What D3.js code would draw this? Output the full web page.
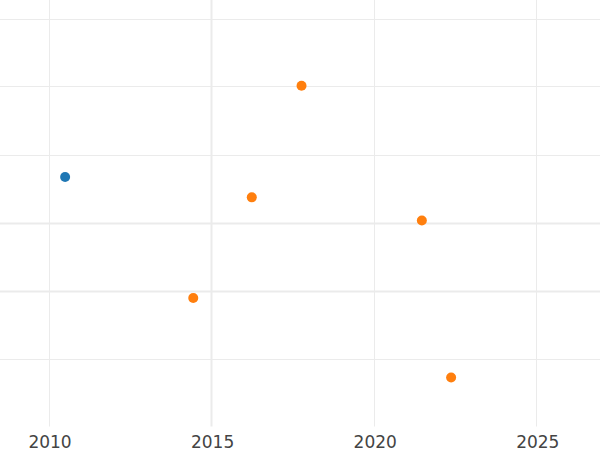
<!DOCTYPE html>
<html>
<head>
<meta charset="utf-8">
<script src="https://cdn.jsdelivr.net/npm/d3@7"></script>
<style>
  html, body { margin: 0; padding: 0; background: #fff; }
  svg { display: block; }
</style>
</head>
<body>
<svg id="chart" width="600" height="450"></svg>
<script>
// ---- data ----
const blueX = [2010.48];
const blueY = [36.7];
const orangeX = [2017.75, 2016.22, 2021.45, 2014.42, 2022.35];
const orangeY = [50.1, 33.7, 30.3, 18.9, 7.2];
const xTicks = [2010, 2015, 2020, 2025];
const yTicks = [10, 20, 30, 40, 50, 60];
const emphasizedX = [2015];
const emphasizedY = [20, 30];

const W = 600, H = 450;
const plotTop = 0, plotBottom = 426.5;

const x = d3.scaleLinear().domain([2010, 2025]).range([49.5, 537.3]);
const y = d3.scaleLinear().domain([0, 60]).range([426.5, 18.5]);

const svg = d3.select("#chart");

// horizontal grid
svg.append("g").selectAll("line").data(yTicks).join("line")
  .attr("x1", 0).attr("x2", W)
  .attr("y1", d => Math.round(y(d)) + 0.5)
  .attr("y2", d => Math.round(y(d)) + 0.5)
  .attr("stroke", "#ebebeb")
  .attr("stroke-width", d => emphasizedY.includes(d) ? 2 : 1);

// vertical grid
svg.append("g").selectAll("line").data(xTicks).join("line")
  .attr("x1", d => Math.round(x(d)) - 0.5)
  .attr("x2", d => Math.round(x(d)) - 0.5)
  .attr("y1", plotTop).attr("y2", plotBottom)
  .attr("stroke", "#ebebeb")
  .attr("stroke-width", d => emphasizedX.includes(d) ? 2 : 1);

// x axis labels
const xAxis = d3.axisBottom(x).tickValues(xTicks).tickFormat(d3.format("d")).tickSize(0).tickPadding(0);
const gx = svg.append("g").attr("transform", "translate(0,434)").call(xAxis);
gx.select(".domain").remove();
gx.selectAll("text")
  .attr("dy", null)
  .attr("y", 14)
  .attr("fill", "#444")
  .style("font-family", "'DejaVu Sans', sans-serif")
  .style("font-size", "17px");

// points
svg.append("g").selectAll("circle").data(blueX.map((v, i) => [v, blueY[i]])).join("circle")
  .attr("cx", d => x(d[0])).attr("cy", d => y(d[1])).attr("r", 5)
  .attr("fill", "#1f77b4");

svg.append("g").selectAll("circle").data(orangeX.map((v, i) => [v, orangeY[i]])).join("circle")
  .attr("cx", d => x(d[0])).attr("cy", d => y(d[1])).attr("r", 5)
  .attr("fill", "#ff7f0e");
</script>
</body>
</html>
